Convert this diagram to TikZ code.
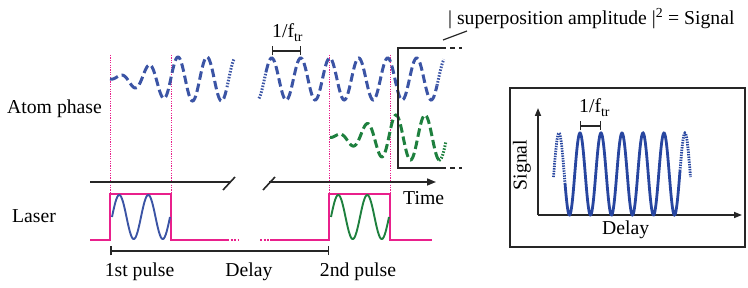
\documentclass[tikz,border=0pt]{standalone}
\usepackage{fontspec}
\setmainfont{Liberation Serif}
\usetikzlibrary{arrows.meta}
\definecolor{wblue}{RGB}{59,84,165}
\definecolor{wdblue}{RGB}{40,70,160}
\definecolor{wgreen}{RGB}{30,128,62}
\definecolor{lmag}{RGB}{233,32,140}
\tikzset{
  lbl/.style={inner sep=0pt,font=\fontsize{19.7}{23}\selectfont},
  phasewave/.style={line width=3pt,dash pattern=on 8.5pt off 4pt},
  phasedots/.style={line width=3pt,dash pattern=on 1.5pt off 1.5pt},
  pulsewave/.style={line width=1.9pt},
  laser/.style={lmag,line width=2.4pt},
  laserdots/.style={lmag,line width=2.4pt,dash pattern=on 2pt off 1.5pt},
  guide/.style={lmag,line width=0.9pt,dash pattern=on 1.2pt off 1.2pt},
  axisline/.style={black!85,line width=1.6pt},
  ftr/.style={black!85,line width=1.3pt,{Bar[width=9pt]}-{Bar[width=9pt]}},
}
\newcommand{\ftrtext}{1/f\textsubscript{tr}}
\begin{document}
\begin{tikzpicture}[x=1pt,y=-1pt]
\useasboundingbox (0,0) rectangle (748,288);
% magenta guide lines
\foreach \gx in {110,171,329,390}
  \draw[guide] (\gx,55) -- (\gx,194);
% atom phase blue, first segment
\draw[wblue,phasewave] plot[domain=110:227,samples=150,smooth]
  (\x,{79-22*min(1,(\x-110)/61)*sin((\x-170.75)/29*360)});
\draw[wblue,phasedots] plot[domain=227:234,samples=10,smooth]
  (\x,{79-22*sin((\x-170.75)/29*360)});
% atom phase blue, second segment
\draw[wblue,phasedots] plot[domain=259:266,samples=10,smooth]
  (\x,{79-21*sin((\x-264.45)/29*360)});
\draw[wblue,phasewave] plot[domain=266:437,samples=200,smooth]
  (\x,{79-21*sin((\x-264.45)/29*360)});
\draw[wblue,phasedots] plot[domain=437:444,samples=10,smooth]
  (\x,{79-21*sin((\x-264.45)/29*360)});
% green phase
\draw[wgreen,phasewave] plot[domain=330:439,samples=150,smooth]
  (\x,{137.5-22.5*min(1,(\x-330)/60)*sin((\x-388.75)/29*360)});
\draw[wgreen,phasedots] plot[domain=439:446,samples=10,smooth]
  (\x,{137.5-22.5*sin((\x-388.75)/29*360)});
% superposition box
\coordinate (bxt) at (398,48);
\coordinate (bxb) at (398,168);
\draw[axisline] (441,48) -- (bxt) -- (bxb) -- (441,168);
\draw[axisline,dash pattern=on 5pt off 4pt] (441,48) -- (462,48);
\draw[axisline,dash pattern=on 5pt off 4pt] (441,168) -- (462,168);
\node[lbl,anchor=base west] (sup) at (448,25) {| superposition amplitude |\textsuperscript{2} = Signal};
\coordinate (leadA) at (443,40);
\coordinate (leadB) at (467,31);
\draw[black!85,line width=1.2pt] (leadA) -- (leadB);
% 1/f_tr top
\node[lbl,anchor=base west] (ftrA) at (272,38) {\ftrtext};
\coordinate (fa1) at (272,51); \coordinate (fa2) at (301,51);
\draw[ftr] (fa1) -- (fa2);
% time axis
\coordinate (t0) at (90,182); \coordinate (t1) at (230,182);
\coordinate (t2) at (269,182); \coordinate (t3) at (436,182);
\draw[axisline] (t0) -- (t1);
\draw[axisline] (223,190) -- (235,177);
\draw[axisline] (263,190) -- (275,177);
\draw[axisline,-{Triangle[length=9pt,width=7pt]}] (t2) -- (t3);
\node[lbl,anchor=base west] (time) at (403,205) {Time};
% laser
\draw[laser,line join=miter] (90,240) -- (110,240) -- (110,194) -- (171,194) -- (171,240) -- (227,240);
\draw[laserdots] (227,240) -- (238,240);
\draw[laserdots] (260,240) -- (270,240);
\draw[laser,line join=miter] (270,240) -- (329,240) -- (329,194) -- (390,194) -- (390,240) -- (432,240);
\draw[wblue,pulsewave] plot[domain=112:170,samples=100,smooth]
  (\x,{217-22*sin((\x-112)/29*360)});
\draw[wgreen,pulsewave] plot[domain=331:389,samples=100,smooth]
  (\x,{217-22*sin((\x-331)/29*360)});
% delay bar
\coordinate (d1) at (110,251); \coordinate (d2) at (329,251);
\draw[black!85,line width=1.5pt,{Bar[width=9pt]}-{Bar[width=9pt]}] (d1) -- (d2);
% labels
\node[lbl,anchor=base west] (atom) at (7,114) {Atom phase};
\node[lbl,anchor=base west] (laserlbl) at (12,223) {Laser};
\node[lbl,anchor=base] (p1) at (139.5,277) {1st pulse};
\node[lbl,anchor=base] (dly) at (249,277) {Delay};
\node[lbl,anchor=base] (p2) at (358,277) {2nd pulse};
% right box
\draw[black!85,line width=1.5pt] (510,88) rectangle (745,247);
\coordinate (o) at (538,215);
\draw[axisline,-{Triangle[length=8pt,width=6pt]}] (o) -- (538,108);
\draw[axisline,-{Triangle[length=8pt,width=6pt]}] (o) -- (742,215);
\node[lbl,rotate=90] (sig) at (522,165) {Signal};
\node[lbl,anchor=base west] (dlyb) at (602,235) {Delay};
\node[lbl,anchor=base west] (ftrB) at (579,113) {\ftrtext};
\coordinate (fb1) at (580,126); \coordinate (fb2) at (601,126);
\draw[ftr] (fb1) -- (fb2);
\draw[wdblue,line width=2.8pt,dash pattern=on 1.4pt off 1.1pt] plot[domain=553.5:565,samples=20,smooth]
  (\x,{174-41*cos((\x-559)/21*360)});
\draw[wdblue,line width=2.8pt] plot[domain=565:680,samples=250,smooth]
  (\x,{174-41*cos((\x-559)/21*360)});
\draw[wdblue,line width=2.8pt,dash pattern=on 1.4pt off 1.1pt] plot[domain=680:690.5,samples=20,smooth]
  (\x,{174-41*cos((\x-559)/21*360)});
\end{tikzpicture}
\end{document}
